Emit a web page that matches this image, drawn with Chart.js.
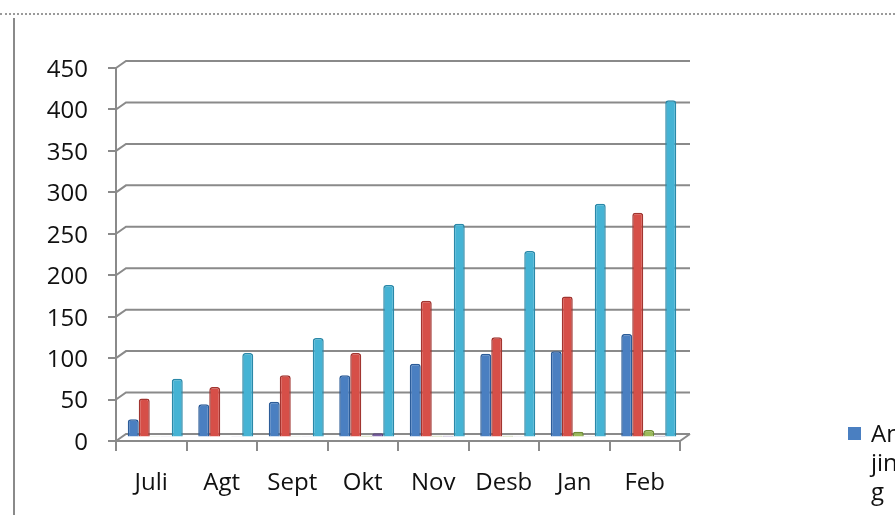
<!DOCTYPE html>
<html>
<head>
<meta charset="utf-8">
<script src="https://cdn.jsdelivr.net/npm/chart.js@4/dist/chart.umd.min.js"></script>
<style>
  html, body { margin: 0; padding: 0; background: #fff; overflow: hidden; }
  #wrap { position: relative; width: 895px; height: 515px; }
  #topline { position: absolute; left: 0; top: 13px; width: 895px; border-top: 2px dotted #9a9a9a; }
  #frame { position: absolute; left: 13px; top: 18px; width: 882px; height: 497px; border-left: 2px solid #8a8a8a; }
  canvas { position: absolute; left: 0; top: 0; }
</style>
</head>
<body>
<div id="wrap">
  <div id="topline"></div>
  <div id="frame"></div>
  <canvas id="c" width="895" height="515"></canvas>
</div>
<script>
// Monthly counts per category
const months = ['Juli', 'Agt', 'Sept', 'Okt', 'Nov', 'Desb', 'Jan', 'Feb'];
const anjing = [22, 40, 43, 75, 89, 101, 104, 125];
const kucing = [47, 61, 75, 102, 165, 121, 170, 271];
const kera   = [1, 0, 1, 2, 2, 2, 7, 9];
const lain   = [1, 1, 1, 5, 2, 1, 1, 2];
const jumlah = [71, 102, 120, 184, 258, 225, 282, 407];
const seriesNames = ['Anjing', 'Kucing', 'Kera', 'Lain-lain', 'Jumlah'];
const yTicks = [0, 50, 100, 150, 200, 250, 300, 350, 400, 450];

const FONT = '"Open Sans", "Liberation Sans", sans-serif';
const TEXT = '#111';
const GRID = '#8a8a8a';
const DEPTH_X = 10, DEPTH_Y = -7;   // offset of the back wall

const colors = ['#4a7fc1', '#d64f48', '#9bbb59', '#7e62a8', '#45b3d4'];
const borders = ['#2c5c98', '#a13530', '#6f8c35', '#5a447e', '#2a88a8'];

// Back wall gridlines, floor and the slanted joins to the front axis
const wallPlugin = {
  id: 'wall',
  beforeDatasetsDraw(chart) {
    const { ctx, chartArea: a, scales: { y } } = chart;
    ctx.save();
    ctx.strokeStyle = GRID;
    ctx.lineWidth = 2;
    yTicks.forEach(v => {
      const yf = y.getPixelForValue(v);
      ctx.beginPath();
      ctx.moveTo(a.left, yf);
      ctx.lineTo(a.left + DEPTH_X, yf + DEPTH_Y);
      ctx.lineTo(a.right + DEPTH_X, yf + DEPTH_Y);
      ctx.stroke();
    });
    // floor front edge and right side
    const y0 = y.getPixelForValue(0);
    ctx.beginPath();
    ctx.moveTo(a.left, y0);
    ctx.lineTo(a.right, y0);
    ctx.lineTo(a.right + DEPTH_X, y0 + DEPTH_Y);
    ctx.stroke();
    ctx.restore();
    // bars sit half way into the depth
    ctx.save();
    ctx.translate(DEPTH_X / 2 - 1, DEPTH_Y / 2);
  },
  afterDatasetsDraw(chart) {
    chart.ctx.restore();
  },
  afterDraw(chart) {
    // legend box on the right, label wrapped to a narrow column
    const { ctx } = chart;
    const ds = chart.data.datasets[0];
    ctx.save();
    ctx.fillStyle = ds.backgroundColor;
    ctx.fillRect(848, 427, 13, 13);
    ctx.font = '24px ' + FONT;
    ctx.fillStyle = TEXT;
    ctx.textBaseline = 'alphabetic';
    const maxW = 33;
    const lines = [];
    let cur = '';
    for (const ch of ds.label) {
      if (cur && ctx.measureText(cur + ch).width > maxW) { lines.push(cur); cur = ch; }
      else cur += ch;
    }
    if (cur) lines.push(cur);
    lines.forEach((t, i) => ctx.fillText(t, 871, 442 + i * 29));
    ctx.restore();
  }
};

const data = [anjing, kucing, kera, lain, jumlah];

new Chart(document.getElementById('c'), {
  type: 'bar',
  data: {
    labels: months,
    datasets: data.map((d, i) => ({
      label: seriesNames[i],
      data: d,
      backgroundColor: colors[i],
      borderColor: borders[i],
      borderWidth: 1.5,
      borderRadius: { topLeft: 3, topRight: 3 },
      borderSkipped: 'bottom',
      categoryPercentage: 0.78,
      barPercentage: 1.0
    }))
  },
  options: {
    responsive: false,
    animation: false,
    devicePixelRatio: 1,
    layout: { padding: { left: 0, top: 68, right: 215, bottom: 0 } },
    plugins: { legend: { display: false }, tooltip: { enabled: false } },
    scales: {
      y: {
        min: 0, max: 450,
        afterFit: s => { s.width = 116; },
        ticks: { stepSize: 50, color: TEXT, padding: 20, labelOffset: 2, font: { family: FONT, size: 24 } },
        grid: { drawOnChartArea: false, drawTicks: true, tickLength: 8, color: GRID, lineWidth: 2 },
        border: { display: true, color: GRID, width: 2 }
      },
      x: {
        afterFit: s => { s.height = 74; },
        ticks: { color: TEXT, padding: 18, font: { family: FONT, size: 24 } },
        grid: { drawOnChartArea: false, drawTicks: true, tickLength: 10, offset: true, color: GRID, lineWidth: 2 },
        border: { display: false }
      }
    }
  },
  plugins: [wallPlugin]
});
</script>
</body>
</html>
